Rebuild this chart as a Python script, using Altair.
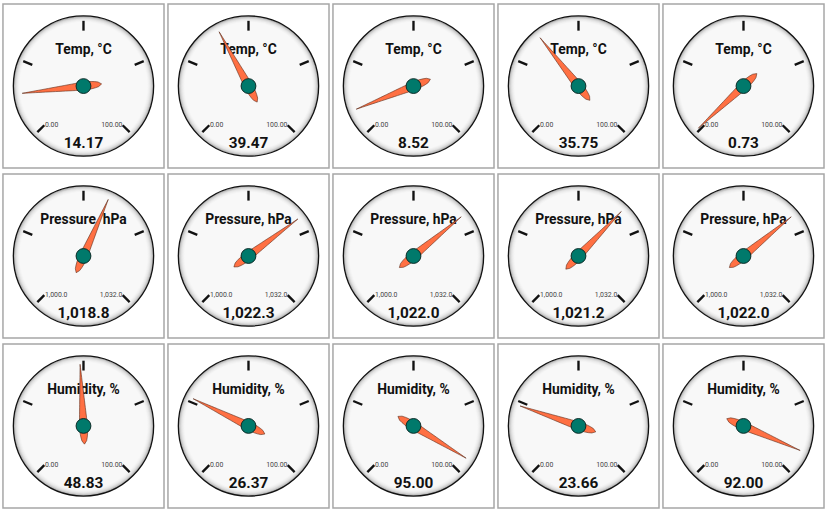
import math

import altair as alt
import pandas as pd

# Gauge groups (one row of dials per sensor)
titles = ["Temp, °C", "Pressure, hPa", "Humidity, %"]
range_min = [0.0, 1000.0, 0.0]
range_max = [100.0, 1032.0, 100.0]
decimals = [2, 1, 2]

temp_values = [14.17, 39.47, 8.52, 35.75, 0.73]
pressure_values = [1018.8, 1022.3, 1022.0, 1021.2, 1022.0]
humidity_values = [48.83, 26.37, 95.00, 23.66, 92.00]
series = [temp_values, pressure_values, humidity_values]

# Dial geometry (radius in pixels, everything else in units of that radius)
R_PX = 71
CELL_W, CELL_H = 163, 166
START_DEG, SWEEP_DEG = -135.0, 270.0
TICK_IN, TICK_OUT = 0.79, 0.93
NEEDLE_TIP, NEEDLE_TAIL, NEEDLE_HALF = 0.88, 0.26, 0.058

# Bezel: outer grey band shading into the dial face
bezel = [(71, "#a8a8a8"), (70, "#c6c6c6"), (69, "#d9d9d9"), (68, "#e6e6e6"),
         (67, "#eeeeee"), (66, "#f4f4f4"), (65, "#f8f8f8")]


def fmt(v, d):
    return f"{v:,.{d}f}"


def gauge_rows(v, s):
    lo, hi, d = range_min[s], range_max[s], decimals[s]
    rows = []
    for k, (r, c) in enumerate(bezel):
        rows.append(dict(part="disc", x=0.0, y=0.0, k=k, size=(2 * r) ** 2, color=c))
    for i in range(5):
        a = math.radians(START_DEG + SWEEP_DEG * i / 4)
        rows.append(dict(part="tick",
                         x=TICK_IN * math.sin(a), y=TICK_IN * math.cos(a),
                         x2=TICK_OUT * math.sin(a), y2=TICK_OUT * math.cos(a)))
    # needle outline as a closed polygon along the value's angle
    a = math.radians(START_DEG + SWEEP_DEG * (v - lo) / (hi - lo))
    ux, uy = math.sin(a), math.cos(a)
    px, py = math.cos(a), -math.sin(a)
    prof = []
    n = 24
    for j in range(n + 1):
        t = NEEDLE_TIP - (NEEDLE_TIP + NEEDLE_TAIL) * j / n
        if t >= 0:
            w = NEEDLE_HALF * (NEEDLE_TIP - t) / NEEDLE_TIP
        else:
            w = NEEDLE_HALF * math.sqrt(max(0.0, 1 - (t / NEEDLE_TAIL) ** 2))
        prof.append((t, w))
    pts = [(t * ux + w * px, t * uy + w * py) for t, w in prof]
    pts += [(t * ux - w * px, t * uy - w * py) for t, w in reversed(prof)]
    for k, (x, y) in enumerate(pts):
        rows.append(dict(part="needle", x=x, y=y, k=k))
    rows.append(dict(part="lo", x=-0.55, y=-0.556, text=fmt(lo, d)))
    rows.append(dict(part="hi", x=0.555, y=-0.556, text=fmt(hi, d)))
    rows.append(dict(part="title", x=0.0, y=0.507, text=titles[s]))
    rows.append(dict(part="value", x=0.0, y=-0.817, text=fmt(v, d)))
    rows.append(dict(part="hub", x=0.0, y=0.0))
    return pd.DataFrame(rows)


xh = CELL_W / 2 / R_PX
yh = CELL_H / 2 / R_PX
X = alt.X("x:Q", scale=alt.Scale(domain=[-xh, xh], nice=False, zero=False), axis=None)
Y = alt.Y("y:Q", scale=alt.Scale(domain=[-yh, yh], nice=False, zero=False), axis=None)
FONT = "Roboto"
INK = "#111111"


def gauge(v, s):
    base = alt.Chart()
    discs = base.mark_point(filled=True, opacity=1, shape="circle").encode(
        x=X, y=Y,
        size=alt.Size("size:Q", scale=None),
        color=alt.Color("color:N", scale=None),
        order=alt.Order("k:Q"),
    ).transform_filter(alt.datum.part == "disc")
    rim = base.mark_point(filled=False, shape="circle", size=142 ** 2,
                          strokeWidth=1.3, opacity=1).encode(
        x=X, y=Y, color=alt.value(INK)).transform_filter(alt.datum.part == "hub")
    ticks = base.mark_rule(strokeWidth=2.4).encode(
        x=X, y=Y, x2="x2:Q", y2="y2:Q", color=alt.value(INK)
    ).transform_filter(alt.datum.part == "tick")
    lo_lbl = base.mark_text(align="left", baseline="middle", font=FONT, fontSize=7).encode(
        x=X, y=Y, text="text:N", color=alt.value("#444444")
    ).transform_filter(alt.datum.part == "lo")
    hi_lbl = base.mark_text(align="right", baseline="middle", font=FONT, fontSize=7).encode(
        x=X, y=Y, text="text:N", color=alt.value("#444444")
    ).transform_filter(alt.datum.part == "hi")
    title = base.mark_text(align="center", baseline="middle", font=FONT, fontSize=14,
                           fontWeight="bold").encode(
        x=X, y=Y, text="text:N", color=alt.value(INK)
    ).transform_filter(alt.datum.part == "title")
    value = base.mark_text(align="center", baseline="middle", font=FONT, fontSize=15.5,
                           fontWeight="bold").encode(
        x=X, y=Y, text="text:N", color=alt.value(INK)
    ).transform_filter(alt.datum.part == "value")
    needle = base.mark_line(interpolate="linear-closed", fill="#ff7043",
                            stroke="#5a2a1a", strokeWidth=0.6).encode(
        x=X, y=Y, order=alt.Order("k:Q")).transform_filter(alt.datum.part == "needle")
    hub = base.mark_point(filled=True, shape="circle", size=15 ** 2, fill="#00796b",
                          stroke="#0b2a26", strokeWidth=1, opacity=1).encode(
        x=X, y=Y).transform_filter(alt.datum.part == "hub")
    return alt.layer(discs, rim, ticks, lo_lbl, hi_lbl, title, value, needle, hub,
                     data=gauge_rows(v, s)).properties(width=CELL_W, height=CELL_H)


chart = alt.vconcat(
    *[alt.hconcat(*[gauge(v, s) for v in vals], spacing=2)
      for s, vals in enumerate(series)],
    spacing=4,
).properties(
    padding={"left": 2, "top": 0, "right": 0, "bottom": 0},
    background="white",
).configure_view(stroke="#a6a6a6", strokeWidth=1.5)

chart.save("out.html", embed_options={"renderer": "svg", "actions": False})
